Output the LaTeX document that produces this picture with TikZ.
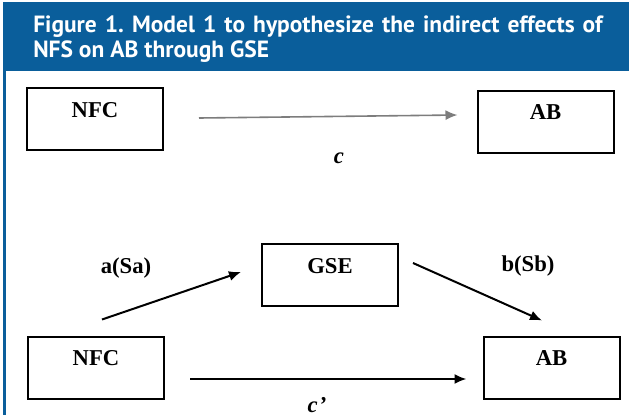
\documentclass[tikz,border=0pt]{standalone}
\usepackage{fontspec}
\setmainfont{Liberation Serif}
\newfontfamily\headfont{PT Sans}
\usetikzlibrary{positioning,arrows.meta,calc}
\definecolor{headblue}{RGB}{10,94,155}
\definecolor{arrowgray}{RGB}{125,125,125}
\frenchspacing
\tikzset{
    box/.style = {
        draw,
        shape=rectangle,
        minimum width=102pt,
        minimum height=46.5pt,
        inner sep=0pt,
        text height=22pt,
        text depth=24.5pt,
        line width=1.5pt,
        font=\bfseries\fontsize{17}{20}\selectfont
    },
    coef/.style = {
        anchor=base,
        inner sep=0pt,
        font=\bfseries\fontsize{17}{20}\selectfont
    },
    link/.style = {
        draw,
        ->,
        line width=1.5pt
    },
    >={Latex[length=9pt,width=7.5pt]},
}

\begin{document}
\begin{tikzpicture}[x=0.75pt,y=-0.75pt]
    \useasboundingbox (0,0) rectangle (629,415);
    % header
    \fill[headblue] (3,2) rectangle (629,71);
    \draw[headblue, line width=2pt] (4.5,71) -- (4.5,415);
    \node[anchor=base west, inner sep=0pt, align=left, text=white,
          font=\headfont\bfseries\fontsize{17.6}{18.75}\selectfont] (title) at (33,57)
        {\makebox[427pt][s]{Figure 1. Model 1 to hypothesize the indirect effects of}\\NFS on AB through GSE};

    % total effect
    \node[box] (nfc1) at (95,119) {NFC};
    \node[box] (ab1) at (545.5,121.5) {AB};
    \node[coef] (c) at (339,163) {\textit{c}};
    \path[link, arrowgray, line width=1.2pt] ($(nfc1.east)+(35,-1)$) -- ($(ab1.west)+(-19,-6.5)$);

    % mediation
    \node[box] (gse) at (330,275) {GSE};
    \node[box] (nfc2) at (96,367.5) {NFC};
    \node[box] (ab2) at (551.5,367.5) {AB};
    \node[coef] (a) at (126,273) {a(Sa)};
    \node[coef] (b) at (528,271) {b(Sb)};
    \node[coef] (cp) at (317,412) {\textit{c\kern1pt'}};

    \path[link] ($(nfc2.north)+(6,-16)$) -- ($(gse.west)+(-20,-3)$);
    \path[link] ($(gse.east)+(14,-12)$) -- ($(ab2.north)+(-9.5,-15)$);
    \path[link] ($(nfc2.east)+(25,11.5)$) -- ($(ab2.west)+(-16,11.5)$);
\end{tikzpicture}
\end{document}
